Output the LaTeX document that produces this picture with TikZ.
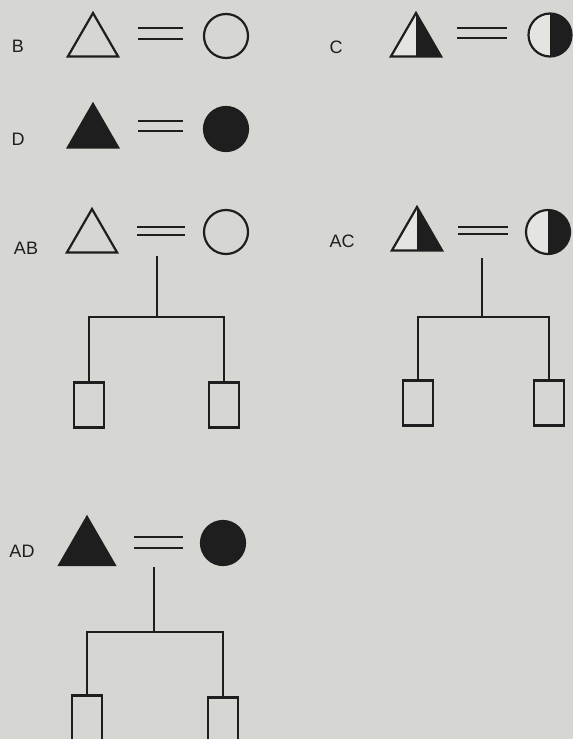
\documentclass[tikz,border=0pt]{standalone}
\usepackage{fontspec}
\setmainfont{Liberation Sans}
\usetikzlibrary{shapes.geometric}
\definecolor{bgc}{RGB}{214,214,210}
\definecolor{ink}{RGB}{30,30,30}
\definecolor{paleln}{RGB}{228,228,224}
\tikzset{
  ln/.style={draw=ink, line width=2.2pt},
  tri/.style={regular polygon, regular polygon sides=3, draw=ink, line width=2.2pt, minimum size=58pt, inner sep=0pt},
  circ/.style={circle, draw=ink, line width=2.2pt, minimum size=44pt, inner sep=0pt},
  full/.style={fill=ink},
  half/.style={fill=paleln, path picture={\fill[ink] (path picture bounding box.north) rectangle (path picture bounding box.south east);}},
  kid/.style={rectangle, draw=ink, line width=2.2pt, minimum width=30pt, minimum height=45pt, inner sep=0pt},
  lab/.style={inner sep=0pt, font=\fontsize{18}{18}\selectfont, text=ink}
}
\begin{document}
\begin{tikzpicture}[x=1pt,y=-1pt]
\fill[bgc] (0,0) rectangle (573,739);
\useasboundingbox (0,0) rectangle (573,739);
\clip (0,0) rectangle (573,739);

% labels
\node[lab] (lB) at (18,46) {B};
\node[lab] (lC) at (336,47) {C};
\node[lab] (lD) at (18,139) {D};
\node[lab] (lAB) at (26,248) {AB};
\node[lab] (lAC) at (342,241) {AC};
\node[lab] (lAD) at (22,551) {AD};

% row B
\node[tri] (tB) at (93,42) {};
\node[circ] (cB) at (226,36) {};
\draw[ln] (138,28) -- (183,28);
\draw[ln] (138,39) -- (183,39);

% row C
\node[tri, half] (tC) at (416,42) {};
\node[circ, half, minimum size=43pt] (cC) at (550,35) {};
\draw[ln] (457,28) -- (507,28);
\draw[ln] (457,38) -- (507,38);

% row D
\node[tri, full] (tD) at (93,133) {};
\node[circ, full] (cD) at (226,129) {};
\draw[ln] (138,121) -- (183,121);
\draw[ln] (138,131) -- (183,131);

% AB
\node[tri] (tAB) at (92,238) {};
\node[circ] (cAB) at (226,232) {};
\draw[ln] (137,227) -- (185,227);
\draw[ln] (137,235) -- (185,235);
\coordinate (dAB) at (157,256);
\coordinate (jAB) at (157,317);
\node[kid] (kAB1) at (89,405) {};
\node[kid] (kAB2) at (224,405) {};
\draw[ln] (dAB) -- (jAB);
\draw[ln] (kAB1.north) |- (jAB) -| (kAB2.north);

% AC
\node[tri, half] (tAC) at (417,236) {};
\node[circ, half] (cAC) at (548,232) {};
\draw[ln] (458,227) -- (508,227);
\draw[ln] (458,234) -- (508,234);
\coordinate (dAC) at (482,258);
\coordinate (jAC) at (482,317);
\node[kid] (kAC1) at (418,403) {};
\node[kid] (kAC2) at (549,403) {};
\draw[ln] (dAC) -- (jAC);
\draw[ln] (kAC1.north) |- (jAC) -| (kAC2.north);

% AD
\node[tri, full, minimum size=64pt] (tAD) at (87,549) {};
\node[circ, full] (cAD) at (223,543) {};
\draw[ln] (134,537) -- (183,537);
\draw[ln] (134,548) -- (183,548);
\coordinate (dAD) at (154,567);
\coordinate (jAD) at (154,632);
\node[kid] (kAD1) at (87,718) {};
\node[kid] (kAD2) at (223,720) {};
\draw[ln] (dAD) -- (jAD);
\draw[ln] (kAD1.north) |- (jAD) -| (kAD2.north);
\end{tikzpicture}
\end{document}
